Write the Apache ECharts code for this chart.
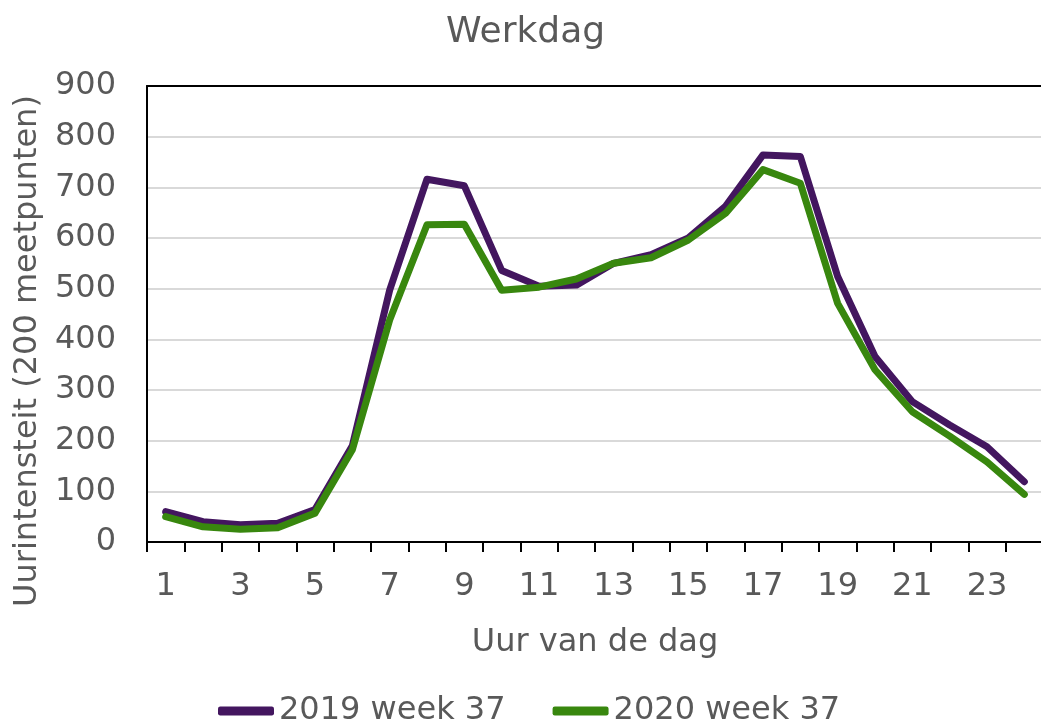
<!DOCTYPE html>
<html>
<head>
<meta charset="utf-8">
<title>Werkdag</title>
<script src="https://cdn.jsdelivr.net/npm/echarts@6/dist/echarts.min.js"></script>
<style>
  html, body { margin: 0; padding: 0; background: #fff; }
  #chart { width: 1041px; height: 725px; }
</style>
</head>
<body>
<div id="chart"></div>
<script>
// uur van de dag
const hours = ['1', '2', '3', '4', '5', '6', '7', '8', '9', '10', '11', '12',
  '13', '14', '15', '16', '17', '18', '19', '20', '21', '22', '23', '24']
// uurintensiteit
const week37_2019 = [60, 40, 34, 37, 64, 190, 497, 716, 703, 536, 505, 507,
  550, 567, 600, 663, 764, 761, 524, 366, 277, 231, 188, 119]
const week37_2020 = [50, 30, 25, 28, 57, 182, 438, 626, 627, 497, 503, 519,
  550, 561, 596, 649, 735, 708, 471, 340, 257, 209, 158, 94]

const textColor = '#595959'
const font = 'DejaVu Sans'

const chart = echarts.init(document.getElementById('chart'))
const option = {
  animation: false,
  title: {
    text: 'Werkdag',
    left: 441,
    top: 10,
    textStyle: { fontFamily: font, fontSize: 36, fontWeight: 'normal', color: textColor }
  },
  legend: {
    left: 213,
    top: 690,
    itemWidth: 56,
    itemHeight: 9,
    itemGap: 47,
    icon: 'roundRect',
    textStyle: { fontFamily: font, fontSize: 32, color: textColor },
    data: ['2019 week 37', '2020 week 37']
  },
  grid: {
    left: 147,
    top: 86,
    width: 896,
    height: 456,
    outerBoundsMode: 'none'
  },
  xAxis: [
    {
      type: 'category',
      data: hours,
      boundaryGap: true,
      name: 'Uur van de dag',
      nameLocation: 'middle',
      nameGap: 85,
      nameTextStyle: { fontFamily: font, fontSize: 32, color: textColor },
      axisLine: { lineStyle: { color: '#000', width: 2 } },
      axisTick: { show: true, interval: 0, length: 10, lineStyle: { color: '#000', width: 2 } },
      axisLabel: { interval: 1, margin: 29, fontFamily: font, fontSize: 32, color: textColor }
    },
    {
      // bovenrand van het plotvlak
      type: 'category',
      data: hours,
      position: 'top',
      axisLine: { lineStyle: { color: '#000', width: 2 } },
      axisTick: { show: false },
      axisLabel: { show: false }
    }
  ],
  yAxis: {
    type: 'value',
    min: 0,
    max: 900,
    interval: 100,
    name: 'Uurintensteit (200 meetpunten)',
    nameLocation: 'middle',
    nameGap: 92,
    nameTextStyle: { fontFamily: font, fontSize: 32, color: textColor, padding: [0, 74, 0, 0] },
    axisLine: { show: true, lineStyle: { color: '#000', width: 2 } },
    axisTick: { show: false },
    axisLabel: { margin: 31, fontFamily: font, fontSize: 32, color: textColor },
    splitLine: { showMaxLine: false, lineStyle: { color: '#d9d9d9', width: 2 } }
  },
  series: [
    {
      name: '2019 week 37',
      type: 'line',
      data: week37_2019,
      symbol: 'none',
      itemStyle: { color: '#43165f' },
      lineStyle: { color: '#43165f', width: 7, cap: 'round', join: 'round' }
    },
    {
      name: '2020 week 37',
      type: 'line',
      data: week37_2020,
      symbol: 'none',
      itemStyle: { color: '#38870e' },
      lineStyle: { color: '#38870e', width: 7, cap: 'round', join: 'round' }
    }
  ]
}
chart.setOption(option)
</script>
</body>
</html>
